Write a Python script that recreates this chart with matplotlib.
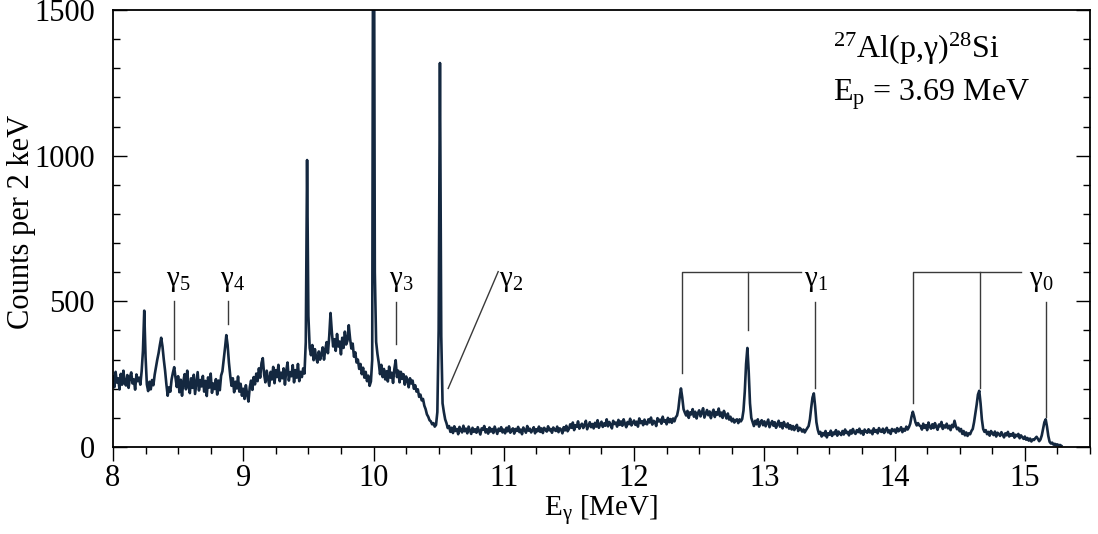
import numpy as np
import matplotlib
matplotlib.use("Agg")
import matplotlib.pyplot as plt
from matplotlib.ticker import MultipleLocator

plt.rcParams['font.family'] = ['Liberation Serif', 'DejaVu Serif']
plt.rcParams['mathtext.fontset'] = 'custom'
plt.rcParams['mathtext.rm'] = 'Liberation Serif'
plt.rcParams['mathtext.it'] = 'Liberation Serif:italic'

# counts per 2 keV, one value every 10 keV starting at 8.00 MeV
counts_08 = [242, 205, 258, 221, 236, 198, 251, 214, 262, 219,
             211, 247, 203, 239, 256, 218, 232, 197, 249, 226,
             238, 214, 260, 330, 468, 310, 215, 192, 224, 198,
             230, 212, 248, 275, 300, 322, 350, 375, 345, 300,
             262, 215, 176, 205, 190, 232, 255, 274, 238, 206,
             243, 188, 231, 176, 225, 250, 198, 262, 210, 185,
             236, 203, 248, 182, 221, 257, 194, 230, 208, 244,
             190, 227, 175, 239, 204, 252, 186, 218, 199, 233,
             180, 228, 195, 245, 260, 300, 340, 384, 350, 290,
             245, 210, 236, 188, 224, 201, 242, 190, 217, 176]
counts_09 = [200, 165, 212, 180, 156, 205, 228, 196, 240, 215,
             252, 226, 270, 238, 288, 305, 250, 222, 262, 235,
             210, 258, 232, 275, 219, 264, 240, 282, 226, 255,
             236, 270, 214, 262, 290, 228, 257, 243, 281, 222,
             264, 238, 285, 226, 258, 240, 270, 252, 360, 985,
             450, 340, 315, 350, 298, 336, 305, 290, 328, 300,
             318, 342, 300, 335, 360, 322, 380, 460, 395, 345,
             370, 330, 388, 345, 362, 318, 375, 340, 396, 352,
             365, 418, 372, 338, 355, 310, 325, 290, 300, 268,
             285, 250, 272, 238, 258, 226, 245, 210, 225, 300]
counts_10 = [2600, 600, 361, 320, 290, 250, 282, 240, 268, 232,
             260, 225, 276, 238, 255, 220, 268, 298, 240, 262,
             222, 258, 234, 250, 214, 242, 230, 205, 236, 218,
             228, 200, 212, 190, 198, 172, 180, 160, 165, 142,
             130, 112, 104, 92, 88, 78, 82, 70, 76, 120,
             400, 1318, 380, 150, 120, 95, 82, 65, 72, 52,
             66, 48, 71, 55, 62, 44, 69, 58, 50, 73,
             54, 63, 47, 70, 57, 45, 66, 52, 61, 49,
             68, 56, 43, 64, 59, 72, 50, 61, 46, 67,
             53, 62, 48, 70, 57, 45, 63, 55, 68, 50]
counts_11 = [60, 47, 66, 54, 71, 49, 58, 64, 46, 62,
             55, 69, 51, 60, 44, 67, 58, 49, 72, 56,
             63, 50, 58, 68, 47, 61, 54, 70, 52, 64,
             48, 66, 59, 53, 71, 57, 62, 49, 67, 58,
             55, 70, 51, 64, 60, 47, 68, 57, 73, 54,
             62, 78, 66, 84, 58, 75, 69, 88, 63, 74,
             80, 65, 76, 90, 61, 73, 85, 68, 79, 64,
             83, 70, 92, 66, 78, 87, 69, 81, 73, 95,
             71, 86, 77, 64, 90, 79, 84, 70, 93, 76,
             88, 73, 95, 80, 68, 86, 78, 97, 74, 83]
counts_12 = [91, 76, 87, 70, 98, 82, 89, 75, 94, 80,
             78, 95, 84, 101, 77, 90, 86, 72, 99, 88,
             94, 80, 104, 87, 92, 78, 100, 85, 96, 83,
             98, 88, 102, 108, 130, 170, 201, 170, 130, 118,
             108, 124, 100, 119, 112, 130, 104, 121, 98, 116,
             126, 105, 118, 133, 101, 114, 127, 109, 122, 99,
             117, 128, 103, 120, 111, 132, 106, 118, 100, 124,
             110, 98, 115, 94, 104, 88, 97, 84, 92, 95,
             82, 95, 88, 96, 125, 190, 285, 340, 260, 150,
             100, 86, 72, 90, 78, 95, 70, 84, 92, 75]
counts_13 = [88, 71, 83, 94, 68, 80, 89, 73, 85, 66,
             79, 90, 70, 82, 64, 86, 74, 68, 81, 63,
             75, 60, 72, 58, 69, 76, 55, 66, 62, 53,
             60, 50, 58, 65, 72, 95, 135, 170, 184, 140,
             85, 60, 45, 52, 36, 48, 40, 55, 33, 47,
             42, 56, 38, 50, 44, 58, 39, 53, 46, 41,
             55, 43, 60, 48, 52, 40, 57, 46, 62, 50,
             45, 58, 51, 63, 47, 55, 42, 60, 53, 49,
             61, 50, 56, 44, 64, 52, 58, 47, 65, 54,
             52, 63, 48, 59, 66, 50, 57, 45, 62, 55]
counts_14 = [60, 49, 65, 54, 58, 68, 51, 62, 56, 70,
             60, 68, 80, 104, 121, 105, 85, 74, 82, 74,
             72, 60, 80, 66, 75, 58, 84, 70, 63, 78,
             65, 82, 69, 59, 77, 71, 86, 62, 74, 67,
             80, 64, 73, 58, 76, 68, 90, 72, 61, 66,
             54, 62, 45, 55, 40, 50, 38, 47, 44, 55,
             62, 85, 115, 145, 180, 193, 150, 95, 62, 52,
             58, 44, 52, 39, 55, 47, 41, 53, 36, 49,
             45, 38, 51, 42, 33, 47, 40, 52, 36, 44,
             39, 48, 32, 42, 37, 45, 30, 40, 34, 28]
counts_15 = [36, 25, 31, 22, 29, 19, 26, 24, 30, 35,
             28, 20, 26, 40, 62, 85, 95, 70, 38, 18,
             12, 15, 8, 11, 6, 9, 5, 7, 4]

counts = np.array(counts_08 + counts_09 + counts_10 + counts_11 +
                  counts_12 + counts_13 + counts_14 + counts_15)
energy = 8.0 + 0.01 * np.arange(len(counts))

fig = plt.figure(figsize=(10.98, 5.34), dpi=100)
ax = fig.add_axes([0.1029, 0.1629, 0.8898, 0.8184])

ax.plot(energy, counts, color='#142840', lw=1.9)

ax.set_xlim(8, 15.5)
ax.set_ylim(0, 1500)
ax.xaxis.set_major_locator(MultipleLocator(1))
ax.xaxis.set_minor_locator(MultipleLocator(0.25))
ax.yaxis.set_major_locator(MultipleLocator(500))
ax.yaxis.set_minor_locator(MultipleLocator(100))
ax.tick_params(axis='x', which='both', direction='out', top=False, labelsize=22, pad=2)
ax.tick_params(axis='y', which='both', direction='in', right=True, labelsize=22, pad=13)
ax.tick_params(which='major', length=10, width=1)
ax.tick_params(which='minor', length=5, width=1)
for s in ax.spines.values():
    s.set_linewidth(1.3)

ax.set_xlabel(r'E$_\mathrm{γ}$ [MeV]', fontsize=21, labelpad=0)
ax.set_ylabel('Counts per 2 keV', fontsize=22)
ax.yaxis.set_label_coords(-0.079, 0.515)

# annotations
lc = '#3a3a3a'
# single markers: (energy, y_top, y_bottom)
marks = [(8.471, 501, 302), (8.886, 501, 422), (10.175, 499, 354),
         (13.388, 499, 201), (15.164, 499, 104)]
for e, y1, y2 in marks:
    ax.plot([e, e], [y1, y2], color=lc, lw=1)
ax.plot([10.957, 10.573], [602, 201], color=lc, lw=1)

# brackets
ax.plot([13.28, 12.366, 12.366], [602, 602, 253], color=lc, lw=1)
ax.plot([12.876, 12.876], [602, 401], color=lc, lw=1)
ax.plot([14.97, 14.144, 14.144], [602, 602, 150], color=lc, lw=1)
ax.plot([14.656, 14.656], [602, 202], color=lc, lw=1)

labels = [('γ$_5$', 8.50), ('γ$_4$', 8.92), ('γ$_3$', 10.21),
          ('γ$_2$', 11.06), ('γ$_1$', 13.40), ('γ$_0$', 15.13)]
for t, e in labels:
    ax.text(e, 553, t, fontsize=21, ha='center', va='baseline')

ax.text(13.53, 1335, r'$^{27}$Al(p,γ)$^{28}$Si', fontsize=23, va='baseline')
ax.text(13.53, 1191, r'E$_\mathrm{p}$ = 3.69 MeV', fontsize=23, va='baseline')

fig.savefig('out.png', dpi=100)
